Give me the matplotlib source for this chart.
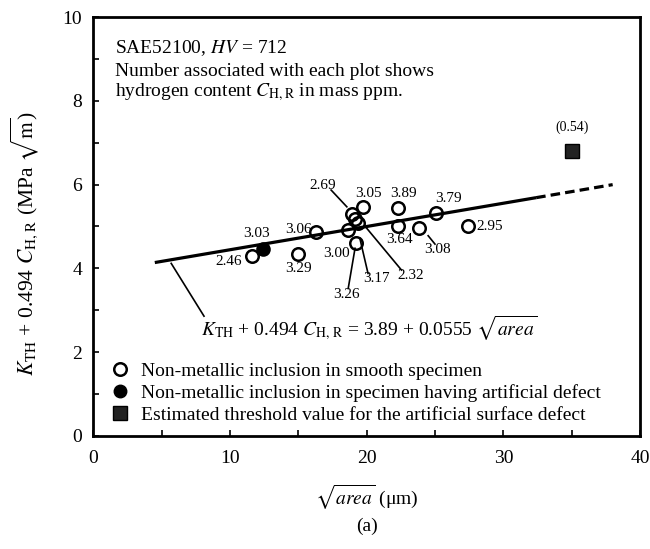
import matplotlib
matplotlib.use('Agg')
import matplotlib.pyplot as plt
from matplotlib.lines import Line2D
import numpy as np

plt.rcParams['font.family'] = ['Liberation Serif', 'DejaVu Serif']
plt.rcParams['mathtext.fontset'] = 'stix'

# ---- data ----
# Non-metallic inclusion in smooth specimen (open circles)
smooth_x = [11.6, 15.0, 16.3, 18.65, 18.9, 19.15, 19.4, 19.2, 19.75, 22.3, 22.3, 23.85, 25.07, 27.4]
smooth_y = [4.30, 4.34, 4.88, 4.92, 5.31, 5.17, 5.08, 4.60, 5.47, 5.43, 5.00, 4.96, 5.33, 5.01]
smooth_c = ['2.46', '3.29', '3.06', '3.00', '2.69', '3.17', '2.32', '3.26', '3.05', '3.89', '3.64', '3.08', '3.79', '2.95']

# Non-metallic inclusion in specimen having artificial defect (filled circle)
defect_x = [12.4]
defect_y = [4.46]
defect_c = ['3.03']

# Estimated threshold value for artificial surface defect (square)
thresh_x = [35.0]
thresh_y = [6.8]
thresh_c = ['(0.54)']

# Fitted relation
fit_intercept = 3.89
fit_slope = 0.0555
fit_solid = [4.5, 32.4]
fit_dashed = [32.4, 38.0]

xticks = [0, 10, 20, 30, 40]
yticks = [0, 2, 4, 6, 8, 10]

# ---- layout (label positions) ----
smooth_lab_x = [9.87, 15.0, 15.0, 17.8, 16.8, 20.7, 23.2, 18.5, 20.1, 22.7, 22.4, 25.15, 26.0, 28.0]
smooth_lab_y = [4.16, 4.00, 4.92, 4.36, 5.99, 3.76, 3.84, 3.37, 5.79, 5.79, 4.68, 4.46, 5.67, 5.01]
smooth_lab_ha = ['center'] * 13 + ['left']
leaders = {
    '2.69': ((17.4, 5.87), (18.55, 5.47)),
    '3.26': ((18.65, 3.52), (19.15, 4.48)),
    '3.17': ((20.1, 3.88), (19.5, 4.72)),
    '2.32': ((22.55, 3.96), (20.0, 4.96)),
    '3.08': ((24.5, 4.78), (25.0, 4.58)),
}

fig = plt.figure(figsize=(6.5, 5.49), dpi=100)
ax = fig.add_axes([93.3 / 650, 1 - 436 / 549, (640 - 93.3) / 650, (436 - 17) / 549])

# fitted line
xs = np.array(fit_solid)
ax.plot(xs, fit_intercept + fit_slope * xs, color='black', lw=2.3, zorder=2, solid_capstyle='butt')
xd = np.array(fit_dashed)
ax.plot(xd, fit_intercept + fit_slope * xd, color='black', lw=2.3, ls=(0, (3, 1.6)), zorder=2)

# points
ax.plot(smooth_x, smooth_y, ls='none', marker='o', ms=9, mfc='none', mec='black', mew=1.8, zorder=3)
ax.plot(defect_x, defect_y, ls='none', marker='o', ms=9, mfc='black', mec='black', mew=1.5, zorder=3)
ax.plot(thresh_x, thresh_y, ls='none', marker='s', ms=10, mfc='#222222', mec='black', mew=1.0, zorder=3)

# point labels
for c, lx, ly, ha in zip(smooth_c, smooth_lab_x, smooth_lab_y, smooth_lab_ha):
    ax.text(lx, ly, c, fontsize=11, ha=ha, va='center')
ax.text(11.95, 4.84, defect_c[0], fontsize=11, ha='center', va='center')
ax.text(thresh_x[0], thresh_y[0] + 0.58, thresh_c[0], fontsize=10, ha='center', va='center')

for (p0, p1) in leaders.values():
    ax.plot([p0[0], p1[0]], [p0[1], p1[1]], color='black', lw=1.2, zorder=2)

# equation and its leader
ax.plot([5.7, 8.1], [4.12, 2.86], color='black', lw=1.2)
ax.text(7.9, 2.57, r'$K_{\rm TH}$ + 0.494 $C_{\rm H,\,R}$ = 3.89 + 0.0555 $\sqrt{area}$',
        fontsize=14, ha='left', va='center')

# header text
ax.text(1.58, 9.13, r'SAE52100, $HV$ = 712', fontsize=14, ha='left', va='baseline')
ax.text(1.58, 8.59, 'Number associated with each plot shows', fontsize=14, ha='left', va='baseline')
ax.text(1.58, 8.10, r'hydrogen content $C_{\rm H,R}$ in mass ppm.', fontsize=14, ha='left', va='baseline')

# legend
handles = [
    Line2D([], [], ls='none', marker='o', ms=9, mfc='white', mec='black', mew=1.8),
    Line2D([], [], ls='none', marker='o', ms=9, mfc='black', mec='black'),
    Line2D([], [], ls='none', marker='s', ms=10, mfc='#222222', mec='black'),
]
labels = ['Non-metallic inclusion in smooth specimen',
          'Non-metallic inclusion in specimen having artificial defect',
          'Estimated threshold value for the artificial surface defect']
ax.legend(handles, labels, loc='center left', bbox_to_anchor=(0.031, 0.103),
          frameon=False, fontsize=14, handlelength=1.0, handletextpad=0.6,
          labelspacing=0.22, borderpad=0, borderaxespad=0, numpoints=1)

# axes
ax.set_xlim(0, 40)
ax.set_ylim(0, 10)
ax.set_xticks(xticks)
ax.set_xticks([5, 15, 25, 35], minor=True)
ax.set_yticks(yticks)
ax.set_yticks([1, 3, 5, 7, 9], minor=True)
ax.tick_params(which='both', direction='in', length=4, width=1.2, labelsize=14)
ax.tick_params(axis='x', which='major', pad=10)
ax.tick_params(axis='y', which='major', pad=8)
for s in ax.spines.values():
    s.set_linewidth(2.0)

ax.set_xlabel(r'$\sqrt{area}$ (μm)', fontsize=14)
ax.xaxis.set_label_coords(0.5, (436 - 497) / 419)
ax.xaxis.label.set_verticalalignment('center')
ax.set_ylabel(r'$K_{\rm TH}$ + 0.494 $C_{\rm H,\,R}$ (MPa $\sqrt{\rm m}$)', fontsize=15.5)
ax.yaxis.set_label_coords(-0.125, 0.46)
ax.yaxis.label.set_verticalalignment('center')

fig.text(366.6 / 650, 1 - 526 / 549, '(a)', fontsize=14, ha='center', va='center')

fig.savefig('out.png', dpi=100)
